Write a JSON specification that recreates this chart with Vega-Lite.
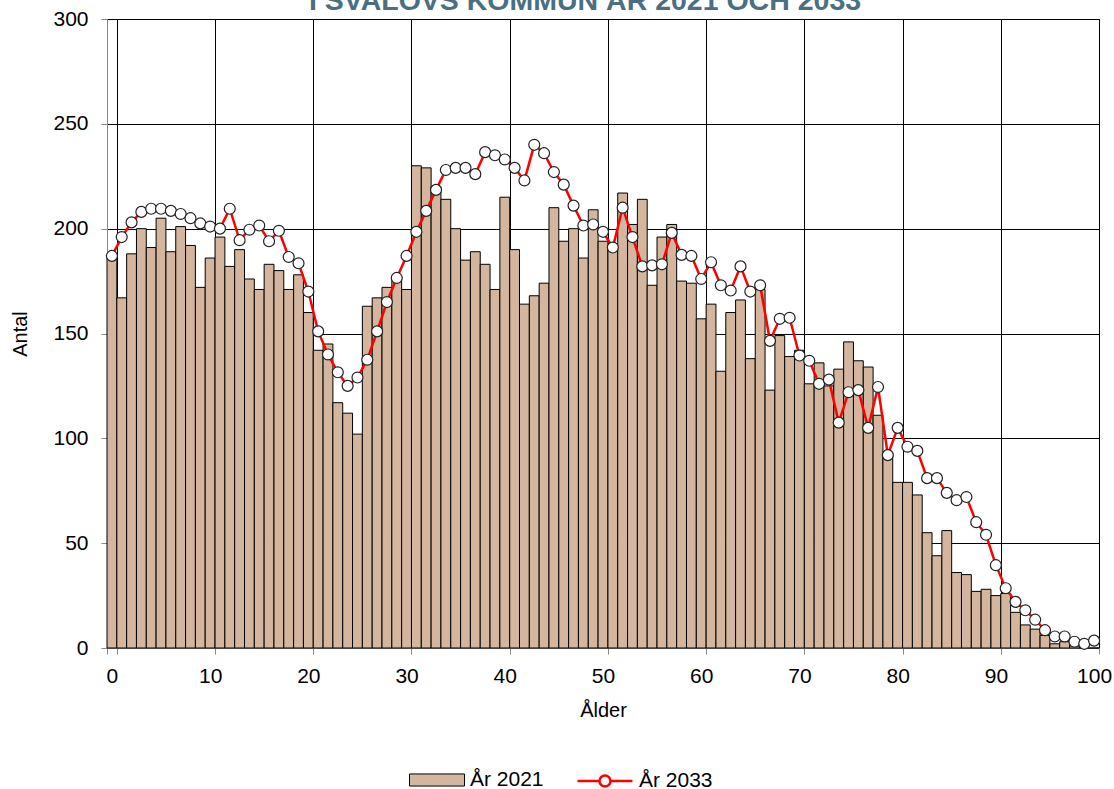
{
  "$schema": "https://vega.github.io/schema/vega-lite/v6.json",
  "autosize": {"type": "none"},
  "width": 992,
  "height": 629,
  "padding": {"left": 107, "top": 19, "right": 15, "bottom": 141},
  "background": "white",
  "title": {
    "text": "I SVALÖVS KOMMUN ÅR 2021 OCH 2033",
    "color": "#4a6f82",
    "font": "Liberation Sans",
    "fontSize": 28.5,
    "fontWeight": "bold",
    "anchor": "middle",
    "frame": "group",
    "baseline": "alphabetic",
    "offset": -30,
    "dx": -18
  },
  "config": {
    "font": "Liberation Sans",
    "view": {"stroke": "#000000", "strokeWidth": 1},
    "legend": {"padding": 0, "offset": 0},
    "axis": {
      "labelFont": "Liberation Sans",
      "titleFont": "Liberation Sans",
      "labelColor": "#000000",
      "titleColor": "#000000",
      "titleFontWeight": "normal"
    }
  },
  "data": {
    "values": [
      {"age": 0, "y2021": 186, "y2033": 187},
      {"age": 1, "y2021": 167, "y2033": 196},
      {"age": 2, "y2021": 188, "y2033": 203},
      {"age": 3, "y2021": 200, "y2033": 208},
      {"age": 4, "y2021": 191, "y2033": 209.5},
      {"age": 5, "y2021": 205, "y2033": 209.5},
      {"age": 6, "y2021": 189, "y2033": 208.5},
      {"age": 7, "y2021": 201, "y2033": 207},
      {"age": 8, "y2021": 192, "y2033": 205},
      {"age": 9, "y2021": 172, "y2033": 202.5},
      {"age": 10, "y2021": 186, "y2033": 201},
      {"age": 11, "y2021": 196, "y2033": 200},
      {"age": 12, "y2021": 182, "y2033": 209.5},
      {"age": 13, "y2021": 190, "y2033": 194.5},
      {"age": 14, "y2021": 176, "y2033": 199.5},
      {"age": 15, "y2021": 171, "y2033": 201.5},
      {"age": 16, "y2021": 183, "y2033": 194},
      {"age": 17, "y2021": 180, "y2033": 199},
      {"age": 18, "y2021": 171, "y2033": 186.5},
      {"age": 19, "y2021": 178, "y2033": 183.5},
      {"age": 20, "y2021": 160, "y2033": 170},
      {"age": 21, "y2021": 142, "y2033": 151},
      {"age": 22, "y2021": 145, "y2033": 140},
      {"age": 23, "y2021": 117, "y2033": 131.5},
      {"age": 24, "y2021": 112, "y2033": 125},
      {"age": 25, "y2021": 102, "y2033": 129},
      {"age": 26, "y2021": 163, "y2033": 137.5},
      {"age": 27, "y2021": 167, "y2033": 151},
      {"age": 28, "y2021": 172, "y2033": 165},
      {"age": 29, "y2021": 177, "y2033": 176.5},
      {"age": 30, "y2021": 171, "y2033": 187},
      {"age": 31, "y2021": 230, "y2033": 198.5},
      {"age": 32, "y2021": 229, "y2033": 208.5},
      {"age": 33, "y2021": 220, "y2033": 218.5},
      {"age": 34, "y2021": 214, "y2033": 228},
      {"age": 35, "y2021": 200, "y2033": 229},
      {"age": 36, "y2021": 185, "y2033": 229},
      {"age": 37, "y2021": 189, "y2033": 226},
      {"age": 38, "y2021": 183, "y2033": 236.5},
      {"age": 39, "y2021": 171, "y2033": 235},
      {"age": 40, "y2021": 215, "y2033": 233},
      {"age": 41, "y2021": 190, "y2033": 229},
      {"age": 42, "y2021": 164, "y2033": 223},
      {"age": 43, "y2021": 168, "y2033": 240},
      {"age": 44, "y2021": 174, "y2033": 236},
      {"age": 45, "y2021": 210, "y2033": 227},
      {"age": 46, "y2021": 194, "y2033": 221},
      {"age": 47, "y2021": 200, "y2033": 211},
      {"age": 48, "y2021": 186, "y2033": 201.5},
      {"age": 49, "y2021": 209, "y2033": 202},
      {"age": 50, "y2021": 194, "y2033": 198.5},
      {"age": 51, "y2021": 191, "y2033": 191},
      {"age": 52, "y2021": 217, "y2033": 210},
      {"age": 53, "y2021": 202, "y2033": 196},
      {"age": 54, "y2021": 214, "y2033": 182},
      {"age": 55, "y2021": 173, "y2033": 182.5},
      {"age": 56, "y2021": 196, "y2033": 183},
      {"age": 57, "y2021": 202, "y2033": 198},
      {"age": 58, "y2021": 175, "y2033": 187.5},
      {"age": 59, "y2021": 174, "y2033": 187},
      {"age": 60, "y2021": 157, "y2033": 176},
      {"age": 61, "y2021": 164, "y2033": 184},
      {"age": 62, "y2021": 132, "y2033": 173},
      {"age": 63, "y2021": 160, "y2033": 170.5},
      {"age": 64, "y2021": 166, "y2033": 182},
      {"age": 65, "y2021": 138, "y2033": 170},
      {"age": 66, "y2021": 171, "y2033": 173},
      {"age": 67, "y2021": 123, "y2033": 146.5},
      {"age": 68, "y2021": 149, "y2033": 157},
      {"age": 69, "y2021": 139, "y2033": 157.5},
      {"age": 70, "y2021": 142, "y2033": 139.5},
      {"age": 71, "y2021": 126, "y2033": 137},
      {"age": 72, "y2021": 136, "y2033": 126},
      {"age": 73, "y2021": 125, "y2033": 128},
      {"age": 74, "y2021": 133, "y2033": 107.5},
      {"age": 75, "y2021": 146, "y2033": 122},
      {"age": 76, "y2021": 137, "y2033": 123},
      {"age": 77, "y2021": 134, "y2033": 105},
      {"age": 78, "y2021": 111, "y2033": 124.5},
      {"age": 79, "y2021": 93, "y2033": 92},
      {"age": 80, "y2021": 79, "y2033": 105},
      {"age": 81, "y2021": 79, "y2033": 96},
      {"age": 82, "y2021": 73, "y2033": 94},
      {"age": 83, "y2021": 55, "y2033": 81},
      {"age": 84, "y2021": 44, "y2033": 81},
      {"age": 85, "y2021": 56, "y2033": 74},
      {"age": 86, "y2021": 36, "y2033": 70.5},
      {"age": 87, "y2021": 35, "y2033": 72},
      {"age": 88, "y2021": 27, "y2033": 60},
      {"age": 89, "y2021": 28, "y2033": 54},
      {"age": 90, "y2021": 25, "y2033": 39.5},
      {"age": 91, "y2021": 26, "y2033": 28.5},
      {"age": 92, "y2021": 17, "y2033": 22},
      {"age": 93, "y2021": 11, "y2033": 18},
      {"age": 94, "y2021": 9, "y2033": 13.5},
      {"age": 95, "y2021": 6, "y2033": 8.5},
      {"age": 96, "y2021": 2, "y2033": 5.5},
      {"age": 97, "y2021": 3, "y2033": 5.5},
      {"age": 98, "y2021": 1, "y2033": 3},
      {"age": 99, "y2021": 0, "y2033": 2},
      {"age": 100, "y2021": 0, "y2033": 3.5}
    ]
  },
  "encoding": {
    "x": {
      "field": "age",
      "type": "ordinal",
      "scale": {"paddingInner": 0, "paddingOuter": 0},
      "axis": {
        "title": "Ålder",
        "titleFontSize": 20,
        "titlePadding": 14,
        "values": [0, 10, 20, 30, 40, 50, 60, 70, 80, 90, 100],
        "labelAngle": 0,
        "labelFontSize": 21,
        "labelPadding": 11,
        "tickSize": 6,
        "tickColor": "#888888",
        "tickBand": "extent",
        "domainColor": "#888888",
        "grid": true,
        "gridColor": "#000000",
        "gridWidth": 1
      }
    }
  },
  "layer": [
    {
      "mark": {"type": "bar", "stroke": "#000000", "strokeWidth": 1},
      "encoding": {
        "y": {
          "field": "y2021",
          "type": "quantitative",
          "scale": {"domain": [0, 300], "nice": false, "zero": true},
          "axis": {
            "title": "Antal",
            "titleFontSize": 20,
            "titlePadding": 22,
            "values": [0, 50, 100, 150, 200, 250, 300],
            "labelFontSize": 21,
            "labelPadding": 13,
            "tickSize": 6,
            "tickColor": "#888888",
            "domainColor": "#888888",
            "grid": true,
            "gridColor": "#000000",
            "gridWidth": 1
          }
        },
        "fill": {
          "datum": "År 2021",
          "type": "nominal",
          "scale": {"domain": ["År 2021"], "range": ["#d3b69d"]},
          "legend": {
            "title": null,
            "orient": "none",
            "legendX": 318.5,
            "legendY": 749.5,
            "direction": "horizontal",
            "labelFontSize": 21,
            "labelFont": "Liberation Sans",
            "labelColor": "#000000",
            "labelOffset": 21.5,
            "symbolType": "M-2.5,-0.55H2.5V0.55H-2.5Z",
            "symbolSize": 484,
            "symbolStrokeColor": "#000000",
            "symbolStrokeWidth": 1,
            "symbolOpacity": 1
          }
        }
      }
    },
    {
      "mark": {"type": "line", "strokeWidth": 2.5},
      "encoding": {
        "y": {"field": "y2033", "type": "quantitative"},
        "stroke": {
          "datum": "År 2033",
          "type": "nominal",
          "scale": {"domain": ["År 2033"], "range": ["#ff0000"]},
          "legend": {
            "title": null,
            "orient": "none",
            "legendX": 485.5,
            "legendY": 749.5,
            "direction": "horizontal",
            "labelFontSize": 21,
            "labelFont": "Liberation Sans",
            "labelColor": "#000000",
            "labelOffset": 21.5,
            "symbolType": "M-2.5,0H-0.5M0.5,0H2.5M-0.5,0A0.5,0.5 0 1,1 0.5,0A0.5,0.5 0 1,1 -0.5,0Z",
            "symbolSize": 484,
            "symbolFillColor": "#ffffff",
            "symbolStrokeWidth": 2.5,
            "symbolOpacity": 1
          }
        }
      }
    },
    {
      "mark": {"type": "point", "filled": true, "fill": "#ffffff", "stroke": "#222222", "strokeWidth": 1.2, "size": 120, "opacity": 1},
      "encoding": {
        "y": {"field": "y2033", "type": "quantitative"}
      }
    }
  ]
}
